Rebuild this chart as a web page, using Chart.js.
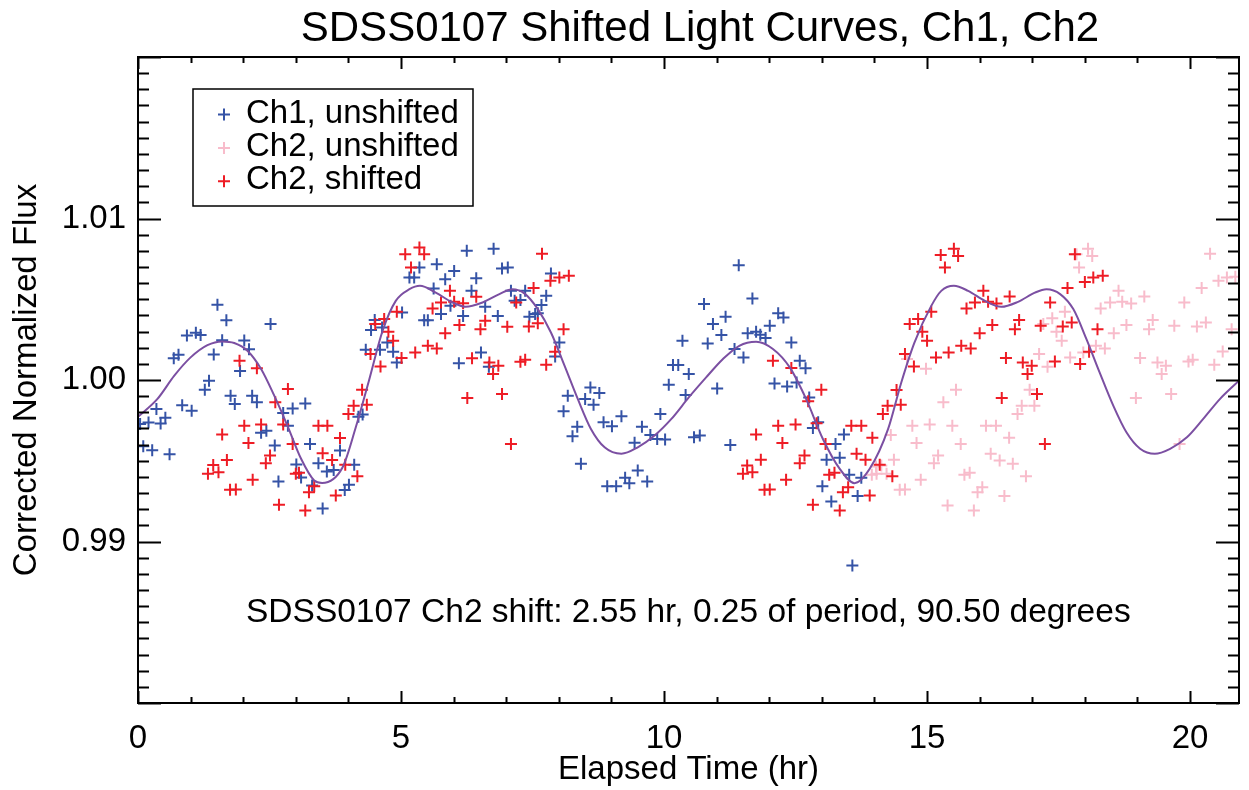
<!DOCTYPE html>
<html>
<head>
<meta charset="utf-8">
<title>SDSS0107 Shifted Light Curves</title>
<script src="https://cdn.jsdelivr.net/npm/chart.js@4.4.1/dist/chart.umd.min.js"></script>
<style>
  html, body { margin: 0; padding: 0; background: #fff; }
  #wrap { width: 1249px; height: 790px; }
</style>
</head>
<body>
<div id="wrap"><canvas id="lc"></canvas></div>
<script>

// Ch1, unshifted (blue)
const ch1Time = [
  0.04, 0.10, 0.20, 0.27, 0.35, 0.43, 0.52, 0.60, 0.68, 0.77,
  0.84, 0.93, 1.02, 1.10, 1.19, 1.27, 1.35, 1.44, 1.51, 1.60,
  1.68, 1.76, 1.84, 1.94, 2.02, 2.11, 2.17, 2.26, 2.34, 2.44,
  2.52, 2.60, 2.67, 2.76, 2.85, 2.94, 3.01, 3.10, 3.18, 3.27,
  3.31, 3.43, 3.51, 3.59, 3.72, 3.84, 3.93, 4.01, 4.11, 4.19,
  4.27, 4.33, 4.43, 4.50, 4.60, 4.64, 4.74, 4.85, 4.92, 5.02,
  5.16, 5.25, 5.35, 5.44, 5.51, 5.62, 5.68, 5.76, 5.84, 5.94,
  6.01, 6.10, 6.18, 6.25, 6.34, 6.43, 6.52, 6.60, 6.67, 6.76,
  6.84, 6.92, 7.03, 7.09, 7.16, 7.27, 7.36, 7.44, 7.55, 7.60,
  7.67, 7.76, 7.85, 7.93, 8.01, 8.09, 8.17, 8.26, 8.35, 8.42,
  8.50, 8.60, 8.66, 8.77, 8.85, 8.92, 9.01, 9.09, 9.19, 9.26,
  9.34, 9.44, 9.50, 9.58, 9.68, 9.74, 9.87, 9.93, 10.02, 10.09,
  10.17, 10.27, 10.35, 10.41, 10.47, 10.57, 10.68, 10.76, 10.83, 10.93,
  11.01, 11.09, 11.17, 11.26, 11.34, 11.42, 11.51, 11.59, 11.68, 11.75,
  11.83, 11.93, 12.01, 12.10, 12.17, 12.27, 12.34, 12.42, 12.52, 12.58,
  12.69, 12.76, 12.83, 12.93, 13.01, 13.09, 13.18, 13.26, 13.34, 13.42,
  13.52, 13.58, 13.68, 13.75
];
const ch1Flux = [
  0.99728, 0.99590, 0.99737, 0.99565, 0.99821, 0.99731, 0.99767, 0.99540, 1.00135, 1.00157,
  0.99843, 1.00276, 0.99809, 1.00293, 1.00279, 0.99939, 0.99995, 1.00158, 1.00466, 1.00246,
  1.00370, 0.99903, 0.99852, 1.00055, 1.00245, 1.00190, 0.99903, 0.99862, 0.99674, 0.99685,
  1.00346, 0.99594, 0.99371, 0.99796, 0.99716, 0.99824, 0.99477, 0.99396, 0.99855, 0.99603,
  0.99347, 0.99485, 0.99204, 0.99434, 0.99442, 0.99563, 0.99319, 0.99352, 0.99476, 0.99773,
  0.99787, 1.00187, 1.00309, 1.00371, 1.00187, 1.00325, 1.00232, 1.00175, 1.00109, 1.00418,
  1.00634, 1.00634, 1.00696, 1.00370, 1.00370, 1.00566, 1.00717, 1.00408, 1.00624, 1.00459,
  1.00675, 1.00103, 1.00397, 1.00800, 1.00552, 1.00630, 1.00171, 1.00453, 1.00082, 1.00813,
  1.00397, 1.00690, 1.00696, 1.00552, 1.00490, 1.00496, 1.00552, 1.00391, 1.00408, 1.00414,
  1.00465, 1.00521, 1.00659, 1.00146, 1.00232, 0.99806, 0.99903, 0.99651, 0.99711, 0.99481,
  0.99883, 0.99954, 0.99847, 0.99920, 0.99738, 0.99342, 0.99713, 0.99342, 0.99775, 0.99394,
  0.99361, 0.99611, 0.99440, 0.99711, 0.99371, 0.99660, 0.99635, 0.99790, 0.99631, 0.99971,
  1.00093, 1.00093, 1.00243, 0.99907, 1.00037, 0.99645, 0.99656, 1.00470, 1.00226, 1.00346,
  0.99948, 1.00278, 1.00391, 0.99598, 1.00192, 1.00711, 1.00140, 1.00290, 1.00504, 1.00298,
  1.00280, 1.00260, 1.00336, 0.99979, 1.00414, 1.00387, 0.99959, 1.00232, 0.99985, 1.00119,
  1.00072, 0.99892, 0.99703, 0.99738, 0.99342, 0.99506, 0.99248, 0.99604, 0.99518, 0.99662,
  0.99413, 0.98852, 0.99281, 0.99394
];

// Ch2, unshifted (pink)
const ch2Time = [
  13.95, 14.03, 14.04, 14.13, 14.23, 14.31, 14.37, 14.48, 14.58, 14.62,
  14.72, 14.80, 14.88, 14.98, 15.05, 15.13, 15.21, 15.31, 15.39, 15.48,
  15.55, 15.64, 15.71, 15.81, 15.89, 15.96, 16.05, 16.12, 16.21, 16.31,
  16.38, 16.47, 16.56, 16.63, 16.72, 16.80, 16.88, 16.95, 17.04, 17.13,
  17.21, 17.29, 17.38, 17.46, 17.56, 17.62, 17.72, 17.84, 17.89, 17.97,
  18.06, 18.14, 18.21, 18.30, 18.38, 18.48, 18.55, 18.64, 18.71, 18.79,
  18.88, 18.97, 19.05, 19.13, 19.22, 19.29, 19.38, 19.46, 19.54, 19.64,
  19.70, 19.80, 19.89, 19.97, 20.05, 20.13, 20.22, 20.30, 20.38, 20.46,
  20.54, 20.62, 20.70, 20.79, 20.86
];
const ch2Flux = [
  0.99413, 0.99464, 0.99419, 0.99470, 0.99419, 0.99660, 0.99506, 0.99320, 0.99322, 1.00130,
  0.99717, 0.99610, 0.99382, 1.00070, 0.99724, 0.99484, 0.99532, 0.99862, 0.99223, 0.99717,
  0.99940, 0.99604, 0.99413, 0.99425, 0.99192, 0.99305, 0.99336, 0.99717, 0.99543, 0.99717,
  0.99501, 0.99281, 0.99642, 0.99481, 0.99790, 0.99841, 0.99404, 0.99940, 0.99841, 1.00161,
  1.00346, 1.00082, 1.00383, 1.00298, 1.00243, 1.00422, 1.00140, 1.00779, 1.00696, 1.00171,
  1.00813, 1.00768, 1.00212, 1.00443, 1.00195, 1.00480, 1.00290, 1.00552, 1.00484, 1.00340,
  1.00473, 0.99889, 1.00136, 1.00517, 1.00315, 1.00371, 1.00109, 1.00037, 1.00088, 0.99913,
  1.00336, 0.99604, 1.00480, 1.00115, 1.00125, 1.00331, 1.00569, 1.00356, 1.00782, 1.00095,
  1.00614, 1.00177, 1.00634, 1.00315, 1.00640
];

// Ch2, shifted (red)
const shiftTime = [
  1.33, 1.43, 1.53, 1.60, 1.69, 1.75, 1.86, 1.93, 2.02, 2.10,
  2.18, 2.26, 2.34, 2.43, 2.51, 2.61, 2.68, 2.76, 2.85, 2.94,
  3.00, 3.06, 3.18, 3.25, 3.35, 3.43, 3.51, 3.60, 3.69, 3.76,
  3.84, 3.94, 4.00, 4.10, 4.17, 4.26, 4.35, 4.42, 4.51, 4.61,
  4.68, 4.76, 4.85, 4.92, 5.01, 5.08, 5.19, 5.27, 5.35, 5.44,
  5.51, 5.60, 5.68, 5.76, 5.84, 5.93, 6.01, 6.11, 6.18, 6.26,
  6.35, 6.43, 6.51, 6.60, 6.68, 6.75, 6.85, 6.92, 7.02, 7.09,
  7.19, 7.27, 7.36, 7.43, 7.52, 7.60, 7.68, 7.76, 7.84, 7.93,
  8.01, 8.09, 8.19,
  11.50, 11.58, 11.68, 11.75, 11.84, 11.91, 12.01, 12.07, 12.17, 12.25,
  12.32, 12.42, 12.50, 12.58, 12.67, 12.74, 12.83, 12.90, 12.99, 13.07,
  13.14, 13.24, 13.34, 13.40, 13.50, 13.56, 13.66, 13.75, 13.83, 13.91,
  13.96, 14.10, 14.16, 14.25, 14.34, 14.42, 14.50, 14.58, 14.67, 14.75,
  14.83, 14.91, 15.00, 15.08, 15.17, 15.26, 15.34, 15.41, 15.51, 15.59,
  15.65, 15.75, 15.83, 15.91, 16.00, 16.07, 16.16, 16.24, 16.32, 16.42,
  16.50, 16.57, 16.67, 16.75, 16.82, 16.91, 16.99, 17.09, 17.16, 17.24,
  17.34, 17.43, 17.58, 17.67, 17.75, 17.81, 17.91, 18.00, 18.08, 18.16,
  18.24, 18.34
];
const shiftFlux = [
  0.99419, 0.99474, 0.99429, 0.99662, 0.99505, 0.99320, 0.99322, 1.00119, 0.99717, 0.99610,
  0.99382, 1.00072, 0.99724, 0.99484, 0.99532, 0.99862, 0.99227, 0.99724, 0.99944, 0.99604,
  0.99420, 0.99425, 0.99192, 0.99305, 0.99342, 0.99717, 0.99546, 0.99717, 0.99505, 0.99285,
  0.99641, 0.99475, 0.99790, 0.99841, 0.99404, 0.99940, 0.99847, 1.00161, 1.00346, 1.00084,
  1.00377, 1.00298, 1.00243, 1.00422, 1.00136, 1.00779, 1.00696, 1.00171, 1.00820, 1.00779,
  1.00212, 1.00443, 1.00195, 1.00480, 1.00290, 1.00552, 1.00484, 1.00340, 1.00476, 0.99889,
  1.00134, 1.00515, 1.00315, 1.00367, 1.00109, 1.00037, 1.00088, 0.99913, 1.00330, 0.99604,
  1.00480, 1.00113, 1.00125, 1.00331, 1.00569, 1.00352, 1.00782, 1.00095, 1.00614, 1.00175,
  1.00634, 1.00315, 1.00645,
  0.99419, 0.99470, 0.99429, 0.99662, 0.99506, 0.99320, 0.99322, 1.00119, 0.99717, 0.99610,
  0.99382, 1.00074, 0.99724, 0.99484, 0.99532, 0.99868, 0.99227, 0.99732, 0.99940, 0.99604,
  0.99413, 0.99425, 0.99192, 0.99305, 0.99336, 0.99717, 0.99543, 0.99717, 0.99506, 0.99285,
  0.99642, 0.99475, 0.99790, 0.99841, 0.99404, 0.99938, 0.99847, 1.00161, 1.00346, 1.00084,
  1.00377, 1.00298, 1.00243, 1.00422, 1.00140, 1.00774, 1.00696, 1.00171, 1.00813, 1.00768,
  1.00212, 1.00443, 1.00195, 1.00480, 1.00290, 1.00552, 1.00484, 1.00340, 1.00473, 0.99889,
  1.00136, 1.00517, 1.00315, 1.00371, 1.00109, 1.00037, 1.00088, 0.99913, 1.00336, 0.99604,
  1.00480, 1.00115, 1.00331, 1.00569, 1.00356, 1.00779, 1.00099, 1.00607, 1.00175, 1.00634,
  1.00315, 1.00645
];

// fitted model curve (purple)
const modelTime = [
  0.00, 0.37, 0.69, 1.00, 1.32, 1.60, 1.83, 2.08, 2.34, 2.59,
  2.84, 3.10, 3.35, 3.50, 3.89, 4.14, 4.39, 4.65, 4.90, 5.16,
  5.36, 5.66, 5.98, 6.23, 6.55, 6.87, 7.12, 7.35, 7.60, 7.85,
  8.11, 8.36, 8.61, 8.87, 9.19, 9.50, 9.82, 10.14, 10.47, 10.80,
  11.12, 11.43, 11.75, 12.07, 12.39, 12.70, 13.02, 13.34, 13.62, 13.91,
  14.26, 14.51, 14.76, 15.08, 15.27, 15.51, 15.78, 16.10, 16.41, 16.73,
  17.05, 17.27, 17.53, 17.78, 18.03, 18.28, 18.54, 18.79, 19.05, 19.33,
  19.62, 19.94, 20.25, 20.57, 20.93
];
const modelFlux = [
  0.99772, 0.99883, 1.00027, 1.00140, 1.00216, 1.00239, 1.00229, 1.00181, 1.00068, 0.99903,
  0.99718, 0.99512, 0.99378, 0.99363, 0.99460, 0.99707, 0.99996, 1.00305, 1.00490, 1.00562,
  1.00583, 1.00541, 1.00480, 1.00453, 1.00480, 1.00532, 1.00562, 1.00535, 1.00439, 1.00294,
  1.00088, 0.99883, 0.99697, 0.99583, 0.99543, 0.99583, 0.99656, 0.99759, 0.99892, 1.00016,
  1.00130, 1.00212, 1.00237, 1.00192, 1.00078, 0.99883, 0.99635, 0.99450, 0.99361, 0.99450,
  0.99697, 0.99985, 1.00232, 1.00459, 1.00552, 1.00583, 1.00552, 1.00490, 1.00453, 1.00484,
  1.00541, 1.00562, 1.00532, 1.00439, 1.00253, 1.00047, 0.99841, 0.99676, 0.99574, 0.99543,
  0.99574, 0.99645, 0.99759, 0.99883, 0.99996
];

const xTicks = [0, 5, 10, 15, 20];
const yTicks = [0.99, 1.00, 1.01];
const legendNames = ['Ch1, unshifted', 'Ch2, unshifted', 'Ch2, shifted'];

const BLUE = '#3553a6';
const PINK = '#f8bccb';
const RED = '#ee1c25';
const PURPLE = '#7b4fa2';
const FONT = '"Liberation Sans", Arial, Helvetica, sans-serif';

const pts = (xs, ys) => xs.map((t, i) => ({ x: t, y: ys[i] }));

// IDL style box: frame, inward ticks on all four sides, legend and note
const idlBox = {
  id: 'idlBox',
  afterDatasetsDraw(chart) {
    const { ctx, chartArea: a, scales: { x, y } } = chart;
    ctx.save();
    ctx.strokeStyle = '#000';
    ctx.lineWidth = 2;
    ctx.beginPath();
    for (let i = 0; i <= 20; i++) {
      const px = Math.round(x.getPixelForValue(i)) + 0.5;
      const len = i % 5 === 0 ? 12 : 6;
      ctx.moveTo(px, a.bottom); ctx.lineTo(px, a.bottom - len);
      ctx.moveTo(px, a.top); ctx.lineTo(px, a.top + len);
    }
    for (let i = 980; i <= 1020; i++) {
      const py = Math.round(y.getPixelForValue(i / 1000)) + 0.5;
      const len = i % 10 === 0 ? 23 : 11;
      ctx.moveTo(a.left, py); ctx.lineTo(a.left + len, py);
      ctx.moveTo(a.right, py); ctx.lineTo(a.right - len, py);
    }
    ctx.stroke();
    ctx.strokeRect(a.left, a.top, a.right - a.left, a.bottom - a.top);
    ctx.restore();
  },
  afterDraw(chart) {
    const { ctx } = chart;
    ctx.save();
    ctx.fillStyle = '#000';
    ctx.textBaseline = 'alphabetic';

    ctx.font = '42px ' + FONT;
    ctx.textAlign = 'center';
    ctx.fillText('SDSS0107 Shifted Light Curves, Ch1, Ch2', 700, 41);

    // legend
    ctx.lineWidth = 1.5;
    ctx.strokeStyle = '#000';
    ctx.strokeRect(193, 89, 280, 117);
    const cols = [BLUE, PINK, RED];
    ctx.font = '33px ' + FONT;
    ctx.textAlign = 'left';
    legendNames.forEach((name, i) => {
      const base = 122.5 + i * 33.4;
      ctx.strokeStyle = cols[i];
      ctx.lineWidth = 2;
      ctx.beginPath();
      ctx.moveTo(218, base - 8); ctx.lineTo(230, base - 8);
      ctx.moveTo(224, base - 14); ctx.lineTo(224, base - 2);
      ctx.stroke();
      ctx.fillStyle = '#000';
      ctx.fillText(name, 246, base);
    });

    ctx.font = '33.5px ' + FONT;
    ctx.fillText('SDSS0107 Ch2 shift: 2.55 hr, 0.25 of period, 90.50 degrees', 246, 622);
    ctx.restore();
  }
};

const markerOpts = (color) => ({
  showLine: false,
  pointStyle: 'cross',
  pointRadius: 6,
  pointHoverRadius: 6,
  pointBorderWidth: 2,
  borderColor: color,
  backgroundColor: color
});

new Chart(document.getElementById('lc'), {
  type: 'scatter',
  data: {
    datasets: [
      {
        label: 'model',
        data: pts(modelTime, modelFlux),
        showLine: true,
        pointRadius: 0,
        borderColor: PURPLE,
        borderWidth: 2,
        cubicInterpolationMode: 'monotone',
        order: 0
      },
      Object.assign({ label: legendNames[2], data: pts(shiftTime, shiftFlux), order: 1 }, markerOpts(RED)),
      Object.assign({ label: legendNames[1], data: pts(ch2Time, ch2Flux), order: 2 }, markerOpts(PINK)),
      Object.assign({ label: legendNames[0], data: pts(ch1Time, ch1Flux), order: 3 }, markerOpts(BLUE))
    ]
  },
  options: {
    responsive: true,
    maintainAspectRatio: false,
    animation: false,
    layout: { padding: { top: 57, right: 10, left: 0, bottom: 0 } },
    plugins: {
      legend: { display: false },
      tooltip: { enabled: false },
      title: { display: false }
    },
    scales: {
      x: {
        type: 'linear',
        min: 0,
        max: 20.93,
        grid: { display: false, drawTicks: false },
        border: { display: false },
        afterBuildTicks: s => { s.ticks = xTicks.map(v => ({ value: v })); },
        afterFit: s => { s.height = 87; },
        ticks: {
          color: '#000',
          padding: 16,
          maxRotation: 0,
          font: { family: FONT, size: 33 },
          callback: v => String(v)
        },
        title: {
          display: true,
          text: 'Elapsed Time (hr)',
          color: '#000',
          padding: { top: 0, bottom: 0 },
          font: { family: FONT, size: 33 }
        }
      },
      y: {
        type: 'linear',
        min: 0.98,
        max: 1.02,
        grid: { display: false, drawTicks: false },
        border: { display: false },
        afterBuildTicks: s => { s.ticks = yTicks.map(v => ({ value: v })); },
        afterFit: s => { s.width = 138; },
        ticks: {
          color: '#000',
          padding: 12,
          font: { family: FONT, size: 33 },
          callback: v => v.toFixed(2)
        },
        title: {
          display: true,
          text: 'Corrected Normalized Flux',
          color: '#000',
          padding: { top: 7, bottom: 0 },
          font: { family: FONT, size: 33 }
        }
      }
    }
  },
  plugins: [idlBox]
});
</script>
</body>
</html>
